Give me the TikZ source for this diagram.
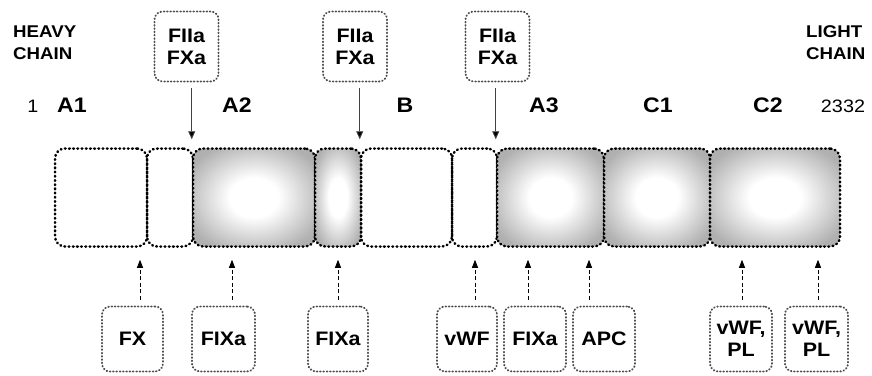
\documentclass[tikz,border=0pt]{standalone}
\usepackage{fontspec}
\setmainfont[FakeStretch=1.1]{Liberation Sans}
\usetikzlibrary{arrows.meta}
\pgfdeclareradialshading{domshade}{\pgfpoint{0bp}{0bp}}{color(0bp)=(white); color(10bp)=(white); color(30bp)=(black!31); color(40bp)=(black!33); color(70bp)=(black!33)}
\tikzset{
  dom/.style={draw=black, line width=2.5pt, dash pattern=on 0.8pt off 3.4pt, line cap=round, rounded corners=10pt, minimum height=98pt, inner sep=0pt},
  domsh/.style={dom, shading=domshade},
  lab/.style={draw=black!70, line width=1.9pt, dash pattern=on 0.6pt off 2.7pt, line cap=round, rounded corners=8pt, inner sep=0pt, align=center, font=\fontsize{19.5}{22}\selectfont\bfseries},
  toplab/.style={lab, minimum width=64pt, minimum height=70pt},
  botlab/.style={lab, minimum height=65pt},
  dname/.style={anchor=base, font=\fontsize{21}{22}\selectfont\bfseries},
  chain/.style={anchor=base west, inner sep=0pt, font=\fontsize{17}{22}\selectfont\bfseries},
  num/.style={anchor=base, font=\fontsize{18}{20}\selectfont},
  downarrow/.style={draw=black!75, line width=0.9pt, -{Triangle[width=7pt,length=8pt,fill=black]}, shorten <=6pt, shorten >=8pt},
  uparrow/.style={draw=black, line width=0.8pt, dash pattern=on 4pt off 2.5pt, -{Triangle[width=6pt,length=8pt,fill=black]}, shorten <=6pt, shorten >=12pt}
}
\begin{document}
\begin{tikzpicture}[x=1pt,y=-1pt]
\useasboundingbox (0,0) rectangle (872,375);
% domains
\node[dom, minimum width=92pt] (d1) at (101,197.5) {};
\node[dom, minimum width=46pt] (d2) at (170,197.5) {};
\node[domsh, minimum width=122pt] (d3) at (254,197.5) {};
\node[domsh, minimum width=46pt] (d4) at (338,197.5) {};
\node[dom, minimum width=91pt] (d5) at (406.5,197.5) {};
\node[dom, minimum width=45pt] (d6) at (474.5,197.5) {};
\node[domsh, minimum width=107pt] (d7) at (550.5,197.5) {};
\node[domsh, minimum width=106pt] (d8) at (657,197.5) {};
\node[domsh, minimum width=130pt] (d9) at (775,197.5) {};
% chain labels
\node[chain] (hc1) at (13,37) {HEAVY};
\node[chain] (hc2) at (13,59) {CHAIN};
\node[chain] (lc1) at (806,37) {LIGHT};
\node[chain] (lc2) at (806,59) {CHAIN};
% domain names
\node[num] (n1) at (33,112) {1};
\node[dname] (a1) at (72,112) {A1};
\node[dname] (a2) at (237,112) {A2};
\node[dname] (b) at (405,112) {B};
\node[dname] (a3) at (544,112) {A3};
\node[dname] (c1) at (658,112) {C1};
\node[dname] (c2) at (768,112) {C2};
\node[num] (n2) at (843,112) {2332};
% top boxes
\node[toplab] (t1) at (186.5,46.5) {FIIa\\FXa};
\node[toplab] (t2) at (355,46.5) {FIIa\\FXa};
\node[toplab] (t3) at (497.5,46.5) {FIIa\\FXa};
\draw[downarrow] (t1.south -| d3.north west) -- (d3.north west);
\draw[downarrow] (t2.south -| d5.north west) -- (d5.north west);
\draw[downarrow] (t3.south -| d7.north west) -- (d7.north west);
% bottom boxes
\node[botlab, minimum width=61pt] (b1) at (132.5,339) {FX};
\node[botlab, minimum width=63pt] (b2) at (223.5,339) {FIXa};
\node[botlab, minimum width=60pt] (b3) at (338,339) {FIXa};
\node[botlab, minimum width=60pt] (b4) at (467,339) {vWF};
\node[botlab, minimum width=62pt] (b5) at (535,339) {FIXa};
\node[botlab, minimum width=62pt] (b6) at (604,339) {APC};
\node[botlab, minimum width=62pt] (b7) at (741,339) {vWF,\\PL};
\node[botlab, minimum width=63pt] (b8) at (816.5,339) {vWF,\\PL};
\draw[uparrow] ([xshift=7.5pt]b1.north) -- ([xshift=7.5pt]b1.north |- d1.south);
\draw[uparrow] ([xshift=8.5pt]b2.north) -- ([xshift=8.5pt]b2.north |- d3.south);
\draw[uparrow] (b3.north) -- (b3.north |- d4.south);
\draw[uparrow] ([xshift=8pt]b4.north) -- ([xshift=8pt]b4.north |- d6.south);
\draw[uparrow] ([xshift=-7pt]b5.north) -- ([xshift=-7pt]b5.north |- d7.south);
\draw[uparrow] ([xshift=-15pt]b6.north) -- ([xshift=-15pt]b6.north |- d7.south);
\draw[uparrow] ([xshift=1pt]b7.north) -- ([xshift=1pt]b7.north |- d9.south);
\draw[uparrow] ([xshift=1.5pt]b8.north) -- ([xshift=1.5pt]b8.north |- d9.south);
\end{tikzpicture}
\end{document}
